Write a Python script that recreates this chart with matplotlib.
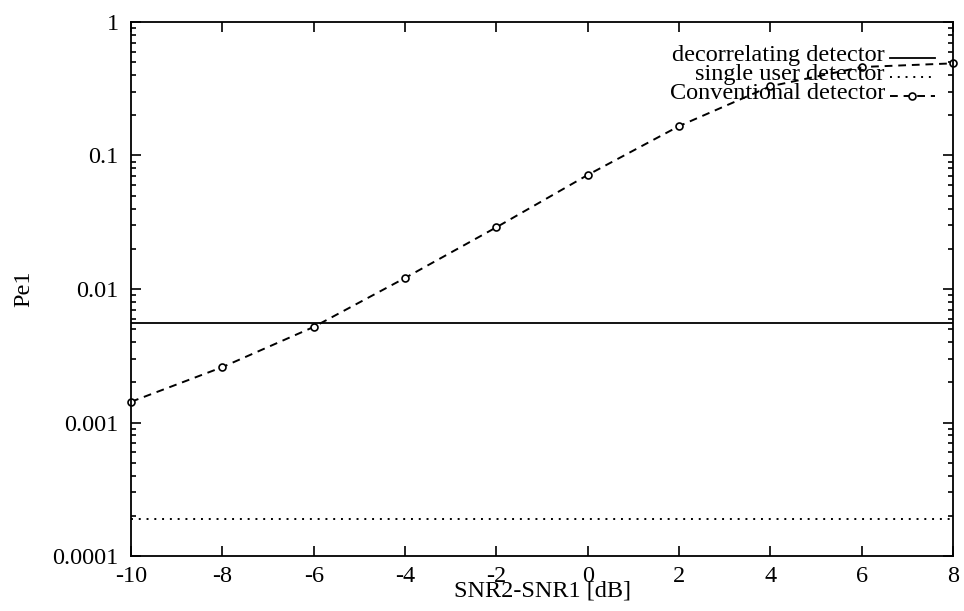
import matplotlib
matplotlib.use("Agg")
import matplotlib.pyplot as plt
from matplotlib.ticker import FixedLocator, FixedFormatter, NullFormatter

# values (log scale)
snr_diff = [-10, -8, -6, -4, -2, 0, 2, 4, 6, 8]
decorrelating = [0.0056, 0.0056, 0.0056, 0.0056, 0.0056, 0.0056, 0.0056, 0.0056, 0.0056, 0.0056]
single_user = [0.00019, 0.00019, 0.00019, 0.00019, 0.00019, 0.00019, 0.00019, 0.00019, 0.00019, 0.00019]
conventional = [0.00143, 0.0026, 0.0052, 0.0121, 0.029, 0.0715, 0.166, 0.33, 0.46, 0.49]

x_ticks = [-10, -8, -6, -4, -2, 0, 2, 4, 6, 8]
y_ticks = [0.0001, 0.001, 0.01, 0.1, 1]
y_labels = ["0.0001", "0.001", "0.01", "0.1", "1"]

labels = ["decorrelating detector", "single user detector", "Conventional detector"]

plt.rcParams["font.family"] = ["Liberation Serif", "DejaVu Serif"]
plt.rcParams["font.size"] = 17.5
plt.rcParams["axes.unicode_minus"] = False

fig = plt.figure(figsize=(9.64, 6.11), dpi=100)
ax = fig.add_axes([0.136, 0.090, 0.8526, 0.874])

ax.plot(snr_diff, decorrelating, color="black", lw=1.3)
ax.plot(snr_diff, single_user, color="black", lw=1.4, linestyle=(0, (1, 3)))
ax.plot(snr_diff, conventional, color="black", lw=1.4, linestyle=(0, (4, 3)),
        marker="o", markersize=5, mfc="white", mec="black", mew=1.2, clip_on=False)

ax.set_yscale("log")
ax.set_xlim(-10, 8)
ax.set_ylim(0.0001, 1)

ax.xaxis.set_major_locator(FixedLocator(x_ticks))
ax.yaxis.set_major_locator(FixedLocator(y_ticks))
ax.yaxis.set_major_formatter(FixedFormatter(y_labels))
ax.yaxis.set_minor_formatter(NullFormatter())

ax.tick_params(which="both", direction="in", top=True, right=True, width=1.2)
ax.tick_params(which="major", length=7.5)
ax.tick_params(which="minor", length=3.8)
ax.tick_params(axis="x", pad=7)
ax.tick_params(axis="y", pad=9)
for s in ax.spines.values():
    s.set_linewidth(1.3)

ax.set_xlabel("SNR2-SNR1 [dB]")
ax.set_ylabel("Pe1")
ax.xaxis.set_label_coords(0.5, -0.045)
ax.yaxis.set_label_coords(-0.118, 0.5)

# gnuplot-style key: right-aligned text, sample to the right
text_x = 0.917
key_x = [0.923, 0.978]
rows = [0.927, 0.891, 0.856]
styles = [dict(linestyle="-", lw=1.3),
          dict(linestyle=(0, (1, 3)), lw=1.4),
          dict(linestyle=(0, (4, 3)), lw=1.4)]
for lab, yb, st in zip(labels, rows, styles):
    ax.text(text_x, yb, lab, transform=ax.transAxes, ha="right", va="baseline")
    ax.plot(key_x, [yb + 0.006] * 2, color="black", transform=ax.transAxes, **st)
ax.plot([sum(key_x) / 2], [rows[2] + 0.006], marker="o", markersize=5, mfc="white",
        mec="black", mew=1.2, transform=ax.transAxes)

fig.savefig("out.png", dpi=100)
